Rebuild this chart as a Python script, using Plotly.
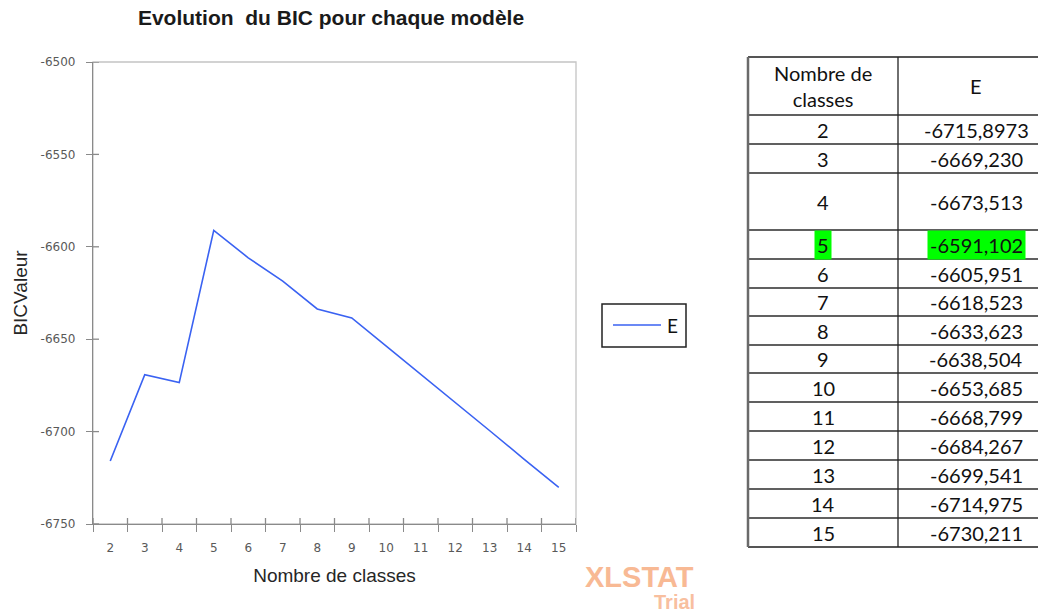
import plotly.graph_objects as go

# ---- data -------------------------------------------------------------
classes = [2, 3, 4, 5, 6, 7, 8, 9, 10, 11, 12, 13, 14, 15]
bic_text = ["-6715,8973", "-6669,230", "-6673,513", "-6591,102", "-6605,951",
            "-6618,523", "-6633,623", "-6638,504", "-6653,685", "-6668,799",
            "-6684,267", "-6699,541", "-6714,975", "-6730,211"]
bic = [float(s.replace(",", ".")) for s in bic_text]
best_class = 5
y_ticks = [-6750, -6700, -6650, -6600, -6550, -6500]
series_name = "E"

# ---- geometry (pixels) -------------------------------------------------
W, H = 1038, 613
L, R, T, B = 93, 576, 62, 524


def px(x):
    return (x - L) / (R - L)


def py(y):
    return (B - y) / (B - T)


AXIS = "#8a8a8a"
TICKFONT = dict(family="DejaVu Sans", size=12, color="#595959")
LABELFONT = dict(family="Liberation Sans, Arial", size=19, color="#262626")
TABLEFONT = dict(family="Lato, Open Sans", size=20, color="#111111")
BLUE = "#3a62f2"
TICKLEN = 6

cat = [str(c) for c in classes]
ytext = [str(v) for v in y_ticks]

fig = go.Figure()
fig.add_trace(go.Scatter(x=cat, y=bic, mode="lines", name=series_name,
                         line=dict(color=BLUE, width=1.6), showlegend=False))

fig.update_layout(
    width=W, height=H,
    margin=dict(l=L, r=W - R, t=T, b=H - B),
    paper_bgcolor="white", plot_bgcolor="white",
    showlegend=False,
    title=dict(text="Evolution&nbsp; du BIC pour chaque modèle",
               x=px(331), xref="paper", xanchor="center",
               y=1 - 18 / H, yref="container", yanchor="middle",
               font=dict(family="Liberation Sans, Arial", size=21, color="#1a1a1a",
                         weight="bold")),
    xaxis=dict(type="category", range=[-0.5, len(cat) - 0.5],
               tickson="boundaries", ticks="outside", ticklen=TICKLEN + 1,
               tickwidth=1.3, tickcolor=AXIS, showline=True, linecolor=AXIS,
               linewidth=1.3, showgrid=False, zeroline=False, tickfont=TICKFONT,
               ticklabelstandoff=12,
               title=dict(text="Nombre de classes", font=LABELFONT, standoff=15)),
    yaxis=dict(range=[y_ticks[0], y_ticks[-1]], tickvals=y_ticks, ticktext=ytext,
               ticks="outside", ticklen=TICKLEN, tickwidth=1.3, tickcolor=AXIS,
               showline=True, linecolor=AXIS, linewidth=1.3,
               showgrid=False, zeroline=False, tickfont=TICKFONT,
               ticklabelstandoff=8,
               title=dict(text="BICValeur", font=LABELFONT, standoff=7)),
)

shapes = []
annotations = []

# light frame around the plotting area
shapes.append(dict(type="rect", xref="paper", yref="paper", x0=0, x1=1, y0=0, y1=1,
                   line=dict(color="#c4c4c4", width=1.3), layer="below"))

# tick marks cross the axes: add the inner halves
for v in y_ticks:
    shapes.append(dict(type="line", xref="paper", yref="y",
                       x0=0, x1=TICKLEN / (R - L), y0=v, y1=v,
                       line=dict(color=AXIS, width=1.3)))
for i in range(len(cat) + 1):
    shapes.append(dict(type="line", xref="x", yref="paper",
                       x0=i - 0.5, x1=i - 0.5, y0=0, y1=TICKLEN / (B - T),
                       line=dict(color=AXIS, width=1.3)))

# legend box
shapes.append(dict(type="rect", xref="paper", yref="paper",
                   x0=px(602), x1=px(686), y0=py(347), y1=py(304),
                   line=dict(color="#222222", width=1.5)))
shapes.append(dict(type="line", xref="paper", yref="paper",
                   x0=px(613), x1=px(661), y0=py(325), y1=py(325),
                   line=dict(color=BLUE, width=1.6)))
annotations.append(dict(text=series_name, xref="paper", yref="paper",
                        x=px(665), y=py(325), xanchor="left", yanchor="middle",
                        showarrow=False, font=dict(family="Lato, Open Sans",
                                                   size=19, color="#111111")))

# ---- table ----------------------------------------------------------------
TX0, TXM, TX1 = 748, 898, 1045
row_lines = [57, 115, 144, 173, 230, 259, 288, 316, 345, 373, 402, 431, 460,
             489, 518, 547]

for i, yl in enumerate(row_lines):
    edge = i in (0, len(row_lines) - 1)
    shapes.append(dict(type="line", xref="paper", yref="paper",
                       x0=px(TX0), x1=px(TX1), y0=py(yl), y1=py(yl),
                       line=dict(color="#555555" if edge else "#2b2b2b",
                                 width=2 if edge else 1.4)))
shapes.append(dict(type="line", xref="paper", yref="paper",
                   x0=px(TX0), x1=px(TX0), y0=py(row_lines[0]), y1=py(row_lines[-1]),
                   line=dict(color="#6a6a6a", width=2.5)))
shapes.append(dict(type="line", xref="paper", yref="paper",
                   x0=px(TXM), x1=px(TXM), y0=py(row_lines[0]), y1=py(row_lines[-1]),
                   line=dict(color="#222222", width=1.3)))

c1 = (TX0 + TXM) / 2
c2 = 976

annotations.append(dict(text="Nombre de<br>classes", xref="paper", yref="paper",
                        x=px(c1), y=py((row_lines[0] + row_lines[1]) / 2),
                        xanchor="center", yanchor="middle", showarrow=False,
                        font=TABLEFONT))
annotations.append(dict(text=series_name, xref="paper", yref="paper",
                        x=px(c2), y=py((row_lines[0] + row_lines[1]) / 2),
                        xanchor="center", yanchor="middle", showarrow=False,
                        font=TABLEFONT))

for i, (c, s) in enumerate(zip(classes, bic_text)):
    ymid = (row_lines[i + 1] + row_lines[i + 2]) / 2
    hl = dict(bgcolor="#00ff00", borderpad=2) if c == best_class else {}
    annotations.append(dict(text=str(c), xref="paper", yref="paper",
                            x=px(c1), y=py(ymid), xanchor="center", yanchor="middle",
                            showarrow=False, font=TABLEFONT, **hl))
    annotations.append(dict(text=s, xref="paper", yref="paper",
                            x=px(c2), y=py(ymid), xanchor="center", yanchor="middle",
                            showarrow=False, font=TABLEFONT, **hl))

# watermark
annotations.append(dict(text="XLSTAT", xref="paper", yref="paper",
                        x=px(696), y=py(577), xanchor="right", yanchor="middle",
                        showarrow=False,
                        font=dict(family="Liberation Sans, Arial", size=29,
                                  color="#f8b994", weight="bold")))
annotations.append(dict(text="Trial", xref="paper", yref="paper",
                        x=px(697), y=py(602), xanchor="right", yanchor="middle",
                        showarrow=False,
                        font=dict(family="Liberation Sans, Arial", size=20,
                                  color="#f8bf9f", weight="bold")))

fig.update_layout(shapes=shapes, annotations=annotations)
fig.write_html("out.html")
